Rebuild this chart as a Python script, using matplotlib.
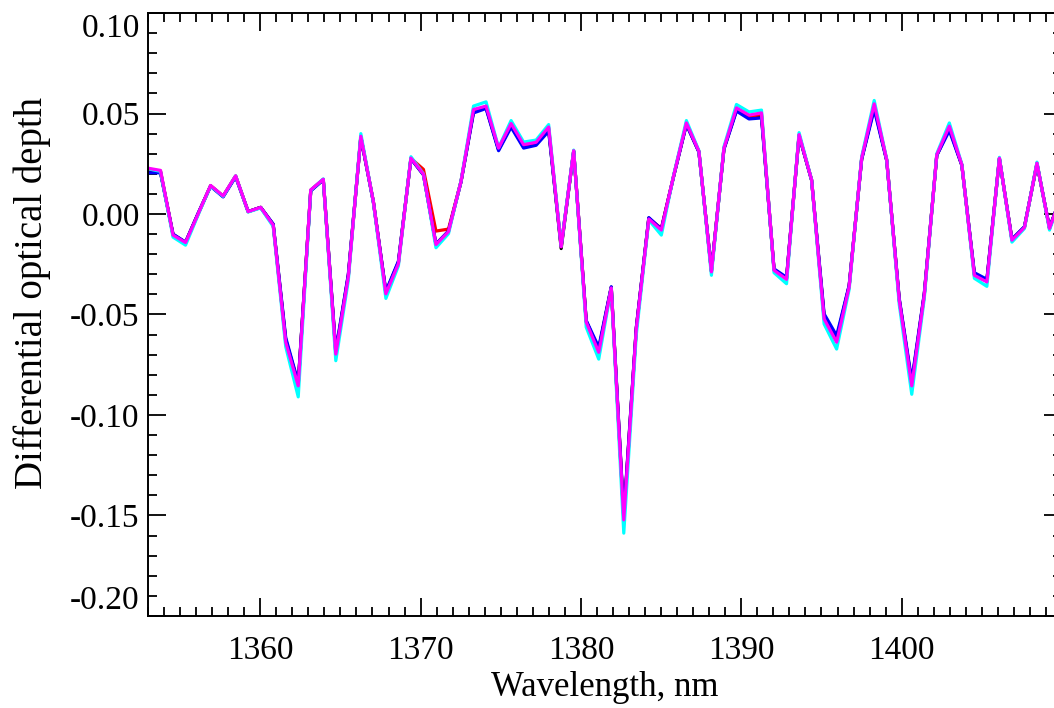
import numpy as np
import matplotlib
matplotlib.use('Agg')
import matplotlib.pyplot as plt
from matplotlib.ticker import MultipleLocator

plt.rcParams['font.family'] = ['Liberation Serif', 'DejaVu Serif']
plt.rcParams['axes.unicode_minus'] = False

# wavelength grid, nm (74 equally spaced samples)
wl_start, wl_end, n_pts = 1353.0, 1410.0, 74

# differential optical depth for the five retrievals
tau_black = [0.0212, 0.0208, -0.0102, -0.0141, 0.0001, 0.0140, 0.0088, 0.0188, 0.0012, 0.0033,
             -0.0052, -0.0625, -0.0845, 0.0117, 0.0171, -0.0688, -0.0305, 0.0384, 0.0061, -0.0390,
             -0.0240, 0.0276, 0.0196, -0.0150, -0.0086, 0.0161, 0.0510, 0.0530, 0.0320, 0.0440,
             0.0335, 0.0348, 0.0420, -0.0172, 0.0313, -0.0533, -0.0675, -0.0364, -0.1510, -0.0568,
             -0.0020, -0.0078, 0.0193, 0.0448, 0.0310, -0.0285, 0.0325, 0.0518, 0.0480, 0.0488,
             -0.0276, -0.0320, 0.0392, 0.0169, -0.0508, -0.0620, -0.0358, 0.0275, 0.0532, 0.0267,
             -0.0425, -0.0842, -0.0400, 0.0293, 0.0425, 0.0243, -0.0298, -0.0330, 0.0276, -0.0127,
             -0.0065, 0.0251, -0.0070, 0.0100]

tau_red = [0.0222, 0.0214, -0.0104, -0.0142, 0.0000, 0.0141, 0.0089, 0.0189, 0.0012, 0.0033,
           -0.0054, -0.0632, -0.0850, 0.0119, 0.0172, -0.0693, -0.0310, 0.0385, 0.0062, -0.0394,
           -0.0244, 0.0277, 0.0222, -0.0085, -0.0075, 0.0162, 0.0515, 0.0533, 0.0324, 0.0446,
           0.0340, 0.0352, 0.0428, -0.0162, 0.0314, -0.0535, -0.0680, -0.0366, -0.1515, -0.0570,
           -0.0022, -0.0072, 0.0194, 0.0450, 0.0311, -0.0286, 0.0326, 0.0522, 0.0486, 0.0495,
           -0.0278, -0.0322, 0.0393, 0.0169, -0.0515, -0.0630, -0.0360, 0.0276, 0.0540, 0.0268,
           -0.0428, -0.0848, -0.0402, 0.0294, 0.0430, 0.0244, -0.0302, -0.0334, 0.0277, -0.0128,
           -0.0066, 0.0252, -0.0071, 0.0100]

tau_blue = [0.0205, 0.0205, -0.0100, -0.0140, 0.0003, 0.0138, 0.0085, 0.0185, 0.0012, 0.0033,
            -0.0050, -0.0615, -0.0840, 0.0115, 0.0170, -0.0680, -0.0300, 0.0382, 0.0060, -0.0385,
            -0.0235, 0.0275, 0.0195, -0.0150, -0.0085, 0.0160, 0.0503, 0.0525, 0.0315, 0.0432,
            0.0328, 0.0342, 0.0412, -0.0160, 0.0312, -0.0530, -0.0663, -0.0362, -0.1500, -0.0565,
            -0.0018, -0.0075, 0.0192, 0.0445, 0.0308, -0.0282, 0.0322, 0.0512, 0.0473, 0.0478,
            -0.0273, -0.0315, 0.0390, 0.0168, -0.0497, -0.0605, -0.0355, 0.0272, 0.0520, 0.0265,
            -0.0420, -0.0830, -0.0395, 0.0292, 0.0415, 0.0242, -0.0292, -0.0325, 0.0275, -0.0125,
            -0.0063, 0.0250, -0.0068, 0.0100]

tau_cyan = [0.0225, 0.0212, -0.0115, -0.0155, -0.0005, 0.0140, 0.0088, 0.0190, 0.0010, 0.0030,
            -0.0062, -0.0660, -0.0910, 0.0118, 0.0175, -0.0730, -0.0330, 0.0400, 0.0058, -0.0420,
            -0.0258, 0.0285, 0.0200, -0.0168, -0.0098, 0.0165, 0.0537, 0.0558, 0.0330, 0.0465,
            0.0358, 0.0368, 0.0445, -0.0160, 0.0318, -0.0563, -0.0722, -0.0370, -0.1588, -0.0600,
            -0.0030, -0.0105, 0.0198, 0.0465, 0.0315, -0.0305, 0.0335, 0.0545, 0.0508, 0.0517,
            -0.0292, -0.0347, 0.0405, 0.0170, -0.0547, -0.0672, -0.0375, 0.0285, 0.0565, 0.0272,
            -0.0450, -0.0897, -0.0420, 0.0300, 0.0453, 0.0248, -0.0320, -0.0360, 0.0282, -0.0140,
            -0.0072, 0.0258, -0.0080, 0.0098]

tau_magenta = [0.0228, 0.0217, -0.0105, -0.0142, 0.0000, 0.0142, 0.0090, 0.0190, 0.0012, 0.0033,
               -0.0055, -0.0638, -0.0855, 0.0120, 0.0173, -0.0697, -0.0313, 0.0387, 0.0062, -0.0397,
               -0.0247, 0.0278, 0.0198, -0.0152, -0.0088, 0.0162, 0.0520, 0.0537, 0.0328, 0.0450,
               0.0345, 0.0357, 0.0433, -0.0163, 0.0315, -0.0538, -0.0688, -0.0368, -0.1522, -0.0572,
               -0.0025, -0.0080, 0.0195, 0.0453, 0.0312, -0.0288, 0.0328, 0.0528, 0.0492, 0.0503,
               -0.0280, -0.0325, 0.0395, 0.0170, -0.0522, -0.0638, -0.0363, 0.0278, 0.0548, 0.0270,
               -0.0430, -0.0855, -0.0405, 0.0295, 0.0437, 0.0245, -0.0305, -0.0338, 0.0278, -0.0130,
               -0.0067, 0.0253, -0.0072, 0.0100]

wl = np.linspace(wl_start, wl_end, n_pts)

fig = plt.figure(figsize=(10.54, 7.08), dpi=100)
ax = fig.add_axes([0.1404, 0.130, 0.8672, 0.8516])

lw = 2.3
ax.plot(wl, tau_black, color='black', lw=lw)
ax.plot(wl, tau_red, color='red', lw=lw)
ax.plot(wl, tau_blue, color='blue', lw=lw)
ax.plot(wl, tau_cyan, color='cyan', lw=lw)
ax.plot(wl, tau_magenta, color='magenta', lw=lw)

ax.set_xlim(1353, 1410)
ax.set_ylim(-0.20, 0.10)

ax.set_xticks([1360, 1370, 1380, 1390, 1400])
ax.xaxis.set_minor_locator(MultipleLocator(1))
ax.set_yticks([-0.20, -0.15, -0.10, -0.05, 0.00, 0.05, 0.10])
ax.set_yticklabels(['%.2f' % v for v in [-0.20, -0.15, -0.10, -0.05, 0.00, 0.05, 0.10]])
ax.yaxis.set_minor_locator(MultipleLocator(0.01))

ax.tick_params(which='both', direction='in', top=True, right=True, width=1.3, labelsize=24)
ax.tick_params(which='major', length=13)
ax.tick_params(which='minor', length=6.5)
ax.tick_params(axis='x', pad=14)
ax.tick_params(axis='y', pad=6)

# end labels sit inside the frame
ylabs = ax.get_yticklabels()
ylabs[0].set_va('bottom')
ylabs[-1].set_va('top')

for s in ax.spines.values():
    s.set_linewidth(1.4)

ax.set_xlabel('Wavelength, nm', fontsize=25, labelpad=4)
ax.set_ylabel('Differential optical depth', fontsize=28)
ax.yaxis.set_label_coords(-0.106, 0.535)

fig.savefig('out.png', dpi=100)
